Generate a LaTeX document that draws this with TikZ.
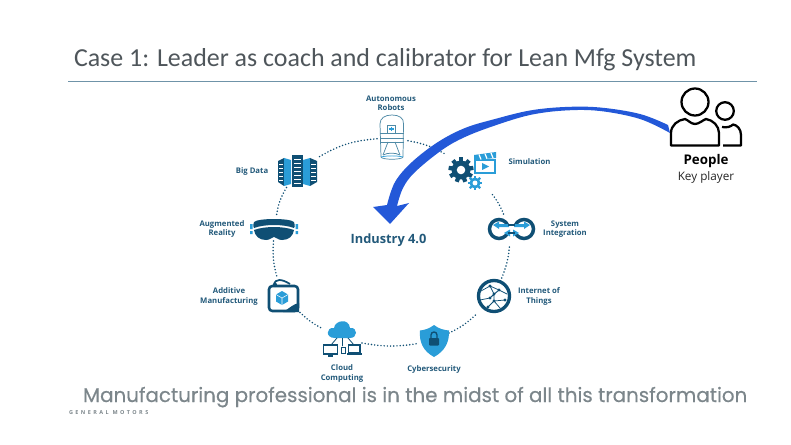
\documentclass[tikz,border=0pt]{standalone}
\usepackage{fontspec}
\setmainfont{Open Sans}
\newfontfamily\titlefont{Carlito}
\newfontfamily\bottomfont[FakeBold=0.35]{Poppins}
\newfontfamily\gmfont[LetterSpace=45]{Open Sans}
\definecolor{dk}{HTML}{0F4F74}
\definecolor{lt}{HTML}{2A9DD8}
\definecolor{lab}{HTML}{22597A}
\definecolor{arrowblue}{HTML}{2358D8}
\definecolor{grayt}{HTML}{7C868B}
\definecolor{titlec}{HTML}{4F565B}
\definecolor{rulec}{HTML}{6F93A8}
\definecolor{carc}{HTML}{4F8AA6}
\newcommand{\gearicon}[5]{% x y r color teeth
  \fill[#4] (#1,#2) circle (#3);
  \foreach \tn in {1,...,#5}{
    \pgfmathsetmacro{\ang}{\tn*360/#5}
    \fill[#4,shift={(#1,#2)},rotate=\ang] (-#3*0.22,-#3*1.32) rectangle (#3*0.22,0);
  }
  \fill[white] (#1,#2) circle (#3*0.45);
}
\tikzset{
  lbl/.style={font=\fontsize{5.8}{6.9}\selectfont\bfseries,text=lab,align=center,inner sep=0pt},
  box/.style={inner sep=0pt,outer sep=0pt},
  dots/.style={draw=dk,line width=1.25pt,line cap=round,dash pattern=on 0pt off 2.4pt},
  ppl/.style={draw=black,line width=1.7pt,line join=round,line cap=butt,fill=none},
}
\begin{document}
\begin{tikzpicture}[x=0.75pt,y=-0.75pt]
\useasboundingbox[fill=white] (0,0) rectangle (791,445);
% title
\node[box,anchor=base west,text=titlec,font=\titlefont\fontsize{19.45}{22}\selectfont] (title) at (74,67) {Case 1: Leader as coach and calibrator for Lean Mfg System};
\coordinate (ruleL) at (68,81); \coordinate (ruleR) at (757,81);
\draw[draw=rulec,line width=0.7pt] (ruleL) -- (ruleR);
% invisible frames of the ring icons
\node[box,minimum width=30*0.75pt,minimum height=50*0.75pt] (robots) at (392,137) {};
\node[box,minimum width=43*0.75pt,minimum height=33*0.75pt] (bigdata) at (297,171) {};
\node[box,minimum width=50*0.75pt,minimum height=24*0.75pt] (ar) at (274,229) {};
\node[box,minimum width=34*0.75pt,minimum height=36*0.75pt] (additive) at (283,296) {};
\node[box,minimum width=40*0.75pt,minimum height=37*0.75pt] (cloud) at (342,339) {};
\node[box,minimum width=30*0.75pt,minimum height=33*0.75pt] (cyber) at (434,341) {};
\node[box,minimum width=36*0.75pt,minimum height=36*0.75pt] (iot) at (494,296) {};
\node[box,minimum width=50*0.75pt,minimum height=30*0.75pt] (sysint) at (511,229) {};
\node[box,minimum width=56*0.75pt,minimum height=42*0.75pt] (sim) at (472,172) {};
% ring connectors
\draw[dots] (robots) to[bend right=13] (bigdata);
\draw[dots] (bigdata) to[bend right=11] (ar);
\draw[dots] (ar) to[bend right=10] (additive);
\draw[dots] (additive) to[bend right=8] (cloud);
\draw[dots] (cloud) to[bend right=10] (cyber);
\draw[dots] (cyber) to[bend right=9] (iot);
\draw[dots] (iot) to[bend right=9] (sysint);
\draw[dots] (sysint) to[bend right=8] (sim);
\draw[dots] (sim) to[bend right=10] (robots);
% robots (car)
\begin{scope}[draw=carc,line width=0.55pt]
  \draw[fill=white] (381,157) -- (380,124) .. controls (380,118) and (385,115) .. (392,115) .. controls (399,115) and (404,118) .. (403.5,124) -- (403,157) .. controls (402,160) and (382,160) .. (381,157) -- cycle;
  \draw (380,133) -- (403.5,133) (380.5,138) -- (403.5,138) (380.5,142) -- (403.5,142);
  \draw (387,125) rectangle (395.5,133);
  \draw[draw=lt,line width=0.9pt] (389,129) -- (393.5,129) (391.2,126.8) -- (391.2,131.2);
  \draw (388,142) -- (383,155) (395,142) -- (400,155);
  \draw (383,155) .. controls (388,152.5) and (395,152.5) .. (400,155);
  \draw[draw=lt] (381,157) .. controls (387,155.5) and (397,155.5) .. (403,157);
\end{scope}
% big data
\fill[dk] (278,161) -- (284,158) -- (284,186) -- (278,182) -- cycle;
\fill[lt] (284,158) -- (291,160) -- (291,184) -- (284,186) -- cycle;
\fill[dk] (292,155) rectangle (303,187);
\fill[lt] (303,160) -- (310,158) -- (310,186) -- (303,184) -- cycle;
\fill[dk] (310,158) -- (317,161) -- (317,182) -- (310,186) -- cycle;
\foreach \yy in {159,163,...,183}{
  \draw[white,line width=0.5pt] (294,\yy) -- (301,\yy);
}
\foreach \yy in {164,168,...,180}{
  \draw[white,line width=0.4pt] (279,\yy) -- (283,\yy);
  \draw[white,line width=0.4pt] (311,\yy) -- (316,\yy);
}
% AR goggles
\fill[dk] (254,222) .. controls (258,218) and (290,218) .. (294,222) .. controls (295,226) and (295,227) .. (294,228) .. controls (283,224) and (265,224) .. (254,228) .. controls (253,227) and (253,226) .. (254,222) -- cycle;
\fill[dk] (254,230) .. controls (265,226) and (283,226) .. (294,230) .. controls (293,236) and (289,240) .. (282,240) .. controls (277,240) and (277,237) .. (274,237) .. controls (271,237) and (271,240) .. (266,240) .. controls (259,240) and (255,236) .. (254,230) -- cycle;
\fill[lt] (250,224) rectangle (252.5,229) (250,231) rectangle (252.5,234);
\fill[lt] (295.5,224) rectangle (298,229) (295.5,231) rectangle (298,234);
% additive manufacturing
\draw[dk,line width=1.9pt,rounded corners=2.5pt] (269,286) rectangle (298,311);
\fill[dk] (283,312) -- (299,312) -- (299,303) .. controls (293,304) and (290,308) .. (283,312) -- cycle;
\draw[dk,line width=1.3pt] (274,285) .. controls (275,278) and (282,279) .. (290,284);
\fill[dk] (275,285) circle (2.2);
\fill[lt] (282,291) -- (288,294.5) -- (288,301.5) -- (282,305) -- (276,301.5) -- (276,294.5) -- cycle;
\draw[white,line width=0.4pt] (276,294.5) -- (282,298) -- (288,294.5) (282,298) -- (282,305);
% cloud computing
\fill[lt] (335,338) .. controls (325,338) and (326,327) .. (334,328) .. controls (335,320) and (349,318) .. (350,328) .. controls (358,327) and (358,338) .. (350,338) -- cycle;
\draw[dk,line width=0.6pt] (342.5,338) -- (342.5,346) (337,338) -- (331,345) (348,338) -- (354,345);
\draw[dk,line width=0.8pt] (323.5,345) rectangle (337.5,354);
\fill[dk] (328,355) rectangle (333,356.5);
\draw[dk,line width=0.6pt] (341,347) rectangle (345,353);
\draw[dk,line width=0.8pt] (348.5,345) rectangle (360,353);
\fill[dk] (347,353) rectangle (361.5,354.5);
% cybersecurity
\fill[lt] (434,325) .. controls (439,329) and (444,330) .. (449,330.5) .. controls (449.5,342) and (445,351) .. (434,357) .. controls (423,351) and (419,342) .. (420,330.5) .. controls (424,330) and (429,329) .. (434,325) -- cycle;
\draw[dk,line width=1pt] (431,338) -- (431,335) .. controls (431,331) and (437,331) .. (437,335) -- (437,338);
\fill[dk,rounded corners=0.6pt] (429,338) rectangle (439,345.5);
% IoT
\draw[dk,line width=2.5pt] (494,296) circle (15.5);
\begin{scope}[dk,line width=0.55pt]
  \draw (481,291) -- (490,286) -- (499,290) -- (507,294) (480,300) -- (490,298) -- (494,294) -- (499,290) (490,286) -- (494,294) -- (494,301) -- (488,307) (494,301) -- (505,300) (499,290) -- (490,298) (494,301) -- (500,308);
  \foreach \p in {(490,286),(499,290),(494,294),(490,298),(494,301),(505,300),(488,307)}{\fill \p circle (1.6);}
\end{scope}
% system integration
\draw[dk,line width=2.6pt] (499,229) circle (9.5);
\draw[dk,line width=2.6pt] (524,229) circle (9.5);
\fill[white] (504,224.5) rectangle (519,233.5);
\fill[lt] (493,225) -- (499,221.5) -- (499,224) -- (509,224) -- (509,227) -- (499,227) -- (499,229) -- cycle;
\fill[lt] (530,225) -- (524,221.5) -- (524,224) -- (514,224) -- (514,227) -- (524,227) -- (524,229) -- cycle;
\fill[lt] (504,233) -- (510,229.5) -- (510,236.5) -- cycle;
\fill[lt] (519,233) -- (513,229.5) -- (513,236.5) -- cycle;
\fill[lt] (509,232) rectangle (514,234);
\draw[dk,line width=1.3pt] (508,225) -- (515,225) (508,233) -- (515,233);
% simulation
\gearicon{461}{170}{9.5}{dk}{9}
\gearicon{475}{183}{5.5}{lt}{8}
\draw[lt,line width=1pt,fill=white] (475,160) rectangle (495,173);
\fill[lt] (474,155) -- (496,152) -- (496,158) -- (474,160) -- cycle;
\draw[white,line width=0.9pt] (479,154.5) -- (481,159.5) (485,153.7) -- (487,158.7) (491,153) -- (493,158);
\fill[lt] (482,163) -- (489,166.5) -- (482,170) -- cycle;
% ring labels
\node[lbl] (lrobots) at (391,103.5) {Autonomous\\Robots};
\node[lbl] (lbig) at (252,171) {Big Data};
\node[lbl] (lar) at (222,229) {Augmented\\Reality};
\node[lbl] (ladd) at (229,296.5) {Additive\\Manufacturing};
\node[lbl] (lcloud) at (342,373.5) {Cloud\\Computing};
\node[lbl] (lcyber) at (434,369) {Cybersecurity};
\node[lbl] (liot) at (539,296.5) {Internet of\\Things};
\node[lbl] (lsys) at (565,229.5) {System\\Integration};
\node[lbl] (lsim) at (529.5,162) {Simulation};
\node[box,font=\fontsize{9.6}{11}\selectfont\bfseries,text=lab] (center) at (388.5,240) {Industry 4.0};
% people icon
\draw[ppl] (695,102) circle (13.5);
\draw[ppl] (725,111) circle (8.8);
\draw[ppl] (671,145.5) -- (671,133) .. controls (671,125) and (678,120) .. (685,119) .. controls (688,120) and (691,124) .. (695,124) .. controls (699,124) and (703,120) .. (706,119) .. controls (713,120) and (719,126) .. (719,133) -- (719,145.5) -- cycle;
\draw[ppl] (723,145.5) -- (741,145.5) -- (741,135) .. controls (741,129) and (737,125) .. (733,124.5) .. controls (731,126.5) and (727,128) .. (722,127);
% sweeping arrow
\fill[arrowblue] plot[smooth,tension=0.6] coordinates {(668,125) (640,114) (600,107.5) (565,107) (530,110.5) (495,119) (465,128) (438,142) (412,162) (395,182) (387,205)}
  -- (373,207) -- (390,224) -- (409,203) -- (397,206)
  -- plot[smooth,tension=0.6] coordinates {(397,206) (403,188) (415,172) (442,150) (465,137) (495,125.5) (530,115) (565,110.5) (600,111) (640,119) (670,133)} -- cycle;
% people text
\node[box,font=\fontsize{10}{12}\selectfont\bfseries,text=black] (people) at (706,161) {People};
\node[box,font=\fontsize{8.8}{11}\selectfont,text=black!85] (key) at (706,177) {Key player};
% bottom
\node[box,anchor=base west,text=grayt,font=\bottomfont\fontsize{14.9}{16}\selectfont] (bottom) at (83,402) {Manufacturing professional is in the midst of all this transformation};
\node[box,anchor=west,text=grayt,font=\gmfont\fontsize{4.1}{5}\selectfont\bfseries] (gm) at (69,413) {GENERAL MOTORS};
\end{tikzpicture}
\end{document}
